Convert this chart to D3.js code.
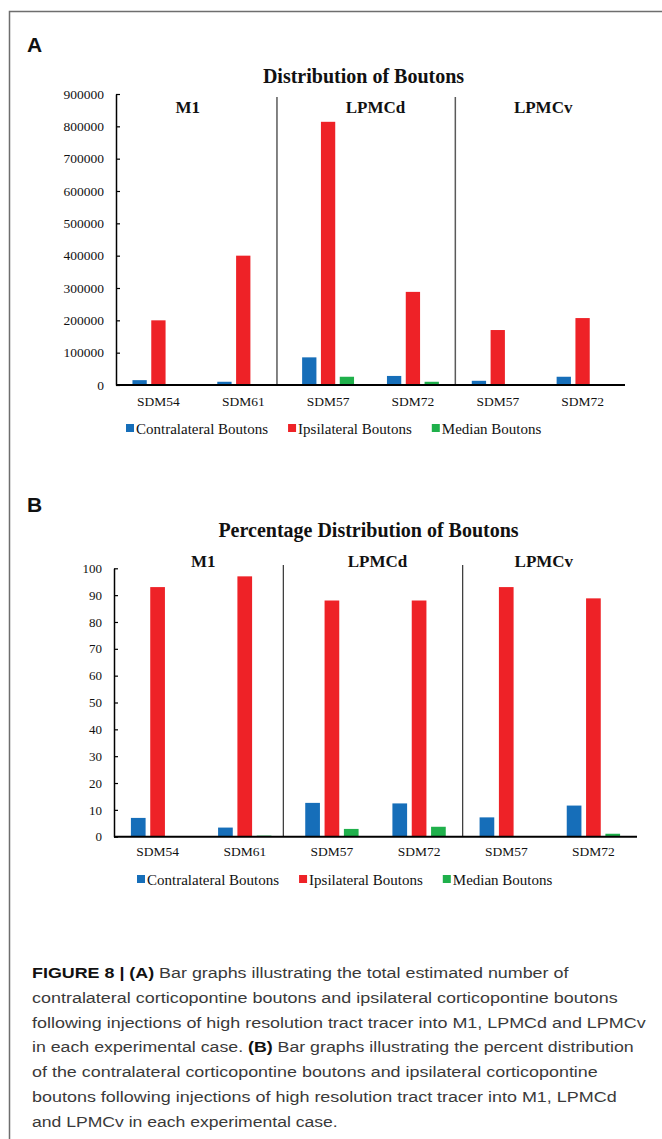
<!DOCTYPE html>
<html>
<head>
<meta charset="utf-8">
<script src="https://cdn.jsdelivr.net/npm/d3@7"></script>
<style>
  html, body { margin: 0; padding: 0; background: #fff; }
  svg { display: block; }
</style>
</head>
<body>
<svg id="fig" width="662" height="1139"></svg>
<script>
// ---------------- DATA ----------------
const categories = ["SDM54", "SDM61", "SDM57", "SDM72", "SDM57", "SDM72"];
const groups = ["M1", "LPMCd", "LPMCv"];
const seriesNames = ["Contralateral Boutons", "Ipsilateral Boutons", "Median Boutons"];
const seriesColors = ["#166EB9", "#EE2227", "#1FB04B"];

// Panel A: estimated number of boutons
const countContralateral = [15000, 10000, 85500, 28000, 13000, 25500];
const countIpsilateral   = [200000, 400000, 814000, 288000, 170000, 207000];
const countMedian        = [0, 0, 25500, 10000, 0, 0];
const countTicks = [0, 100000, 200000, 300000, 400000, 500000, 600000, 700000, 800000, 900000];

// Panel B: percentage of total boutons
const pctContralateral = [7.0, 3.4, 12.6, 12.4, 7.2, 11.6];
const pctIpsilateral   = [93, 97, 88, 88, 93, 88.8];
const pctMedian        = [0, 0.4, 2.9, 3.7, 0, 1.1];
const pctTicks = [0, 10, 20, 30, 40, 50, 60, 70, 80, 90, 100];

const captionLines = [
  [["FIGURE 8 | (A)", true], [" Bar graphs illustrating the total estimated number of", false]],
  [["contralateral corticopontine boutons and ipsilateral corticopontine boutons", false]],
  [["following injections of high resolution tract tracer into M1, LPMCd and LPMCv", false]],
  [["in each experimental case. ", false], ["(B)", true], [" Bar graphs illustrating the percent distribution", false]],
  [["of the contralateral corticopontine boutons and ipsilateral corticopontine", false]],
  [["boutons following injections of high resolution tract tracer into M1, LPMCd", false]],
  [["and LPMCv in each experimental case.", false]]
];
const captionWidths = [537, 586, 614, 602, 566, 585, 306];

// ---------------- DRAW ----------------
const svg = d3.select("#fig");
svg.append("rect").attr("width", 662).attr("height", 1139).attr("fill", "#fff");

// frame
svg.append("path")
  .attr("d", "M9.5,1139 V11.5 H662")
  .attr("fill", "none").attr("stroke", "#6e6e6e").attr("stroke-width", 1.5);

const serif = "'Liberation Serif', 'Times New Roman', serif";
const sans = "'Liberation Sans', Arial, Helvetica, sans-serif";

function drawPanel(cfg) {
  const g = svg.append("g");
  const idx = d3.range(categories.length);
  const x0 = d3.scaleBand().domain(idx).range([cfg.left, cfg.right])
    .paddingInner(0.388).paddingOuter(0.194);
  const x1 = d3.scaleBand().domain(d3.range(seriesNames.length))
    .range([0, x0.bandwidth()]).paddingInner(0.24).paddingOuter(0);
  const y = d3.scaleLinear().domain([0, cfg.yMax]).range([cfg.bottom, cfg.top]);

  // panel letter
  g.append("text").attr("x", 27).attr("y", cfg.letterY)
    .attr("font-family", sans).attr("font-weight", "bold").attr("font-size", 21)
    .attr("fill", "#111").text(cfg.letter);

  // title
  g.append("text").attr("x", (cfg.left + cfg.right) / 2 - 7).attr("y", cfg.titleY)
    .attr("text-anchor", "middle").attr("font-family", serif).attr("font-weight", "bold")
    .attr("font-size", 20).attr("fill", "#111").text(cfg.title);

  // bars
  const series = cfg.values;
  series.forEach((vals, s) => {
    g.append("g").selectAll("rect")
      .data(vals.map((v, i) => ({ v, i })).filter(d => d.v > 0))
      .join("rect")
      .attr("x", d => x0(d.i) + x1(s))
      .attr("width", x1.bandwidth())
      .attr("y", d => y(d.v))
      .attr("height", d => y(0) - y(d.v))
      .attr("fill", seriesColors[s]);
  });

  // group dividers
  [2, 4].forEach((k, j) => {
    const xb = x0(k) - x0.step() * x0.paddingInner() / 2 + cfg.dividerShift[j];
    g.append("line").attr("x1", xb).attr("x2", xb)
      .attr("y1", cfg.dividerTop).attr("y2", cfg.bottom)
      .attr("stroke", cfg.dividerColor).attr("stroke-width", cfg.dividerWidth);
  });

  // group labels
  groups.forEach((name, j) => {
    const gc = (x0(2 * j) + x0(2 * j + 1) + x0.bandwidth()) / 2 + cfg.groupShift[j];
    g.append("text").attr("x", gc).attr("y", cfg.groupY)
      .attr("text-anchor", "middle").attr("font-family", serif).attr("font-weight", "bold")
      .attr("font-size", 17).attr("fill", "#111").text(name);
  });

  // y axis
  const yAxis = d3.axisLeft(y).tickValues(cfg.ticks).tickFormat(d3.format("d"))
    .tickSizeInner(-4).tickSizeOuter(0).tickPadding(12);
  const ya = g.append("g").attr("transform", `translate(${cfg.left},0)`).call(yAxis);
  ya.select(".domain").attr("stroke", "#000").attr("stroke-width", 1.5);
  ya.selectAll(".tick line").attr("stroke", "#000").attr("stroke-width", 1.2);
  ya.selectAll(".tick text").attr("font-family", serif).attr("font-size", cfg.tickFont)
    .attr("fill", "#111");

  // x axis
  const xAxis = d3.axisBottom(x0).tickFormat(i => categories[i]).tickSize(0).tickPadding(cfg.xPad);
  const xa = g.append("g").attr("transform", `translate(0,${cfg.bottom})`).call(xAxis);
  xa.select(".domain").remove();
  xa.selectAll(".tick text").attr("font-family", serif).attr("font-size", 13.5).attr("fill", "#111");
  g.append("line").attr("x1", cfg.left).attr("x2", cfg.right)
    .attr("y1", cfg.bottom).attr("y2", cfg.bottom)
    .attr("stroke", "#000").attr("stroke-width", 2);

  // y title
  g.append("text")
    .attr("transform", `translate(${cfg.yTitleX},${(cfg.top + cfg.bottom) / 2}) rotate(-90)`)
    .attr("text-anchor", "middle").attr("font-family", serif).attr("font-weight", "bold")
    .attr("font-size", 18).attr("fill", "#111").text(cfg.yTitle);

  // legend
  const lg = g.append("g").attr("transform", `translate(${cfg.legendX},${cfg.legendY})`);
  let cx = 0;
  seriesNames.forEach((name, s) => {
    lg.append("rect").attr("x", cx).attr("y", -4).attr("width", 8).attr("height", 8)
      .attr("fill", seriesColors[s]);
    const t = lg.append("text").attr("x", cx + 10).attr("y", 5.5)
      .attr("font-family", serif).attr("font-size", 15).attr("fill", "#111").text(name);
    cx += 10 + t.node().getComputedTextLength() + 20;
  });
}

drawPanel({
  letter: "A", letterY: 52,
  title: "Distribution of Boutons", titleY: 83,
  left: 116, right: 625, top: 94, bottom: 385,
  yMax: 900000, ticks: countTicks, tickFont: 13.5,
  values: [countContralateral, countIpsilateral, countMedian],
  dividerShift: [-8.7, 0], dividerTop: 97, dividerColor: "#5a5a5a", dividerWidth: 1.5,
  groupShift: [-13, 5, 3], groupY: 113,
  xPad: 11, yTitleX: 56,
  legendX: 126, legendY: 428
});

drawPanel({
  letter: "B", letterY: 512,
  title: "Percentage Distribution of Boutons", titleY: 537,
  left: 114, right: 637, top: 568.3, bottom: 836.7,
  yMax: 100, ticks: pctTicks, tickFont: 13,
  values: [pctContralateral, pctIpsilateral, pctMedian],
  dividerShift: [-5, 0], dividerTop: 565, dividerColor: "#333", dividerWidth: 1.2,
  groupShift: [2, 2, -6], groupY: 567,
  xPad: 10, yTitleX: 74,
  legendX: 137, legendY: 879
});

// caption
const cap = svg.append("g");
captionLines.forEach((parts, li) => {
  const t = cap.append("text")
    .attr("font-family", sans).attr("font-size", 15.5).attr("fill", "#333");
  parts.forEach(([txt, bold]) => {
    t.append("tspan").attr("font-weight", bold ? "bold" : "normal")
      .attr("fill", bold ? "#111" : "#3a3a3a").text(txt);
  });
  const w = t.node().getComputedTextLength();
  const sx = captionWidths[li] / w;
  t.attr("transform", `translate(32,${978 + li * 24.8}) scale(${sx},1)`);
});
</script>
</body>
</html>
